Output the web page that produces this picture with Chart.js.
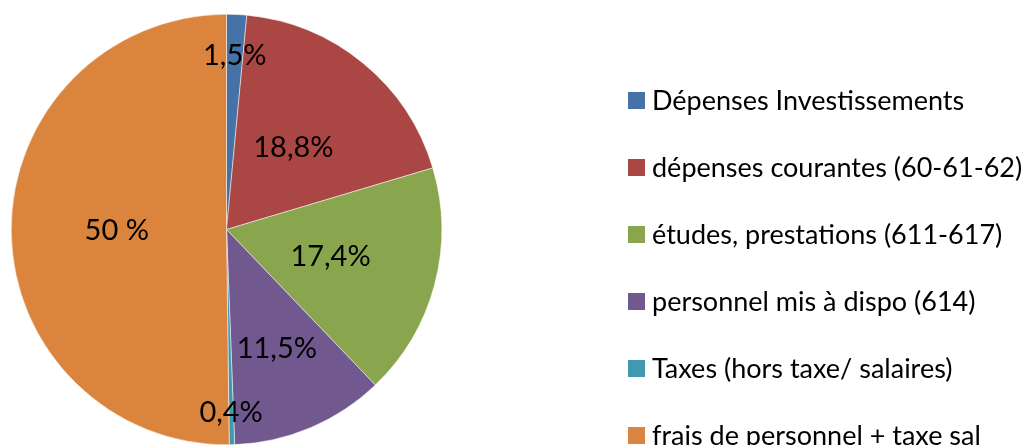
<!DOCTYPE html>
<html>
<head>
<meta charset="utf-8">
<script src="https://cdn.jsdelivr.net/npm/chart.js@4"></script>
<style>
  html, body { margin: 0; padding: 0; background: #fff; }
  #wrap { width: 1024px; height: 445px; position: relative; }
</style>
</head>
<body>
<div id="wrap"><canvas id="pie"></canvas></div>
<script>
const categories = [
  "Dépenses Investissements",
  "dépenses courantes (60-61-62)",
  "études, prestations (611-617)",
  "personnel mis à dispo (614)",
  "Taxes (hors taxe/ salaires)",
  "frais de personnel + taxe sal",
];
const values = [1.5, 18.8, 17.4, 11.5, 0.4, 50];
const valueLabels = ["1,5%", "18,8%", "17,4%", "11,5%", "0,4%", "50 %"];
const colors = ["#4572A7", "#AA4643", "#89A54E", "#71588F", "#4198AF", "#DB843D"];

// how far out (fraction of radius) each slice label sits, like Excel's best fit
const labelRadius = [0.81, 0.49, 0.5, 0.6, 0.85, 0.51];
const fontFamily = "Lato, 'Open Sans', sans-serif";

const sliceLabels = {
  id: "sliceLabels",
  afterDatasetsDraw(chart) {
    const ctx = chart.ctx;
    const arcs = chart.getDatasetMeta(0).data;
    ctx.save();
    ctx.font = "29px " + fontFamily;
    ctx.fillStyle = "#000";
    ctx.textAlign = "center";
    ctx.textBaseline = "middle";
    arcs.forEach((arc, i) => {
      const mid = (arc.startAngle + arc.endAngle) / 2;
      const r = arc.outerRadius * labelRadius[i];
      ctx.fillText(valueLabels[i], arc.x + Math.cos(mid) * r, arc.y + Math.sin(mid) * r);
    });
    ctx.restore();
  },
};

const sideLegend = {
  id: "sideLegend",
  afterDraw(chart) {
    const ctx = chart.ctx;
    ctx.save();
    ctx.font = "27px " + fontFamily;
    ctx.textBaseline = "middle";
    categories.forEach((name, i) => {
      const y = 100 + i * 67;
      ctx.fillStyle = colors[i];
      ctx.fillRect(628, y - 8, 17, 17);
      ctx.fillStyle = "#000";
      ctx.fillText(name, 652, y + 1);
    });
    ctx.restore();
  },
};

new Chart(document.getElementById("pie"), {
  type: "pie",
  data: {
    labels: categories,
    datasets: [
      {
        data: values,
        backgroundColor: colors,
        borderColor: "#fff",
        borderWidth: 0.5,
      },
    ],
  },
  options: {
    responsive: true,
    maintainAspectRatio: false,
    animation: false,
    layout: { padding: { left: 11, top: 14, right: 582, bottom: 0 } },
    plugins: {
      legend: { display: false },
      tooltip: { enabled: false },
    },
  },
  plugins: [sliceLabels, sideLegend],
});
</script>
</body>
</html>
